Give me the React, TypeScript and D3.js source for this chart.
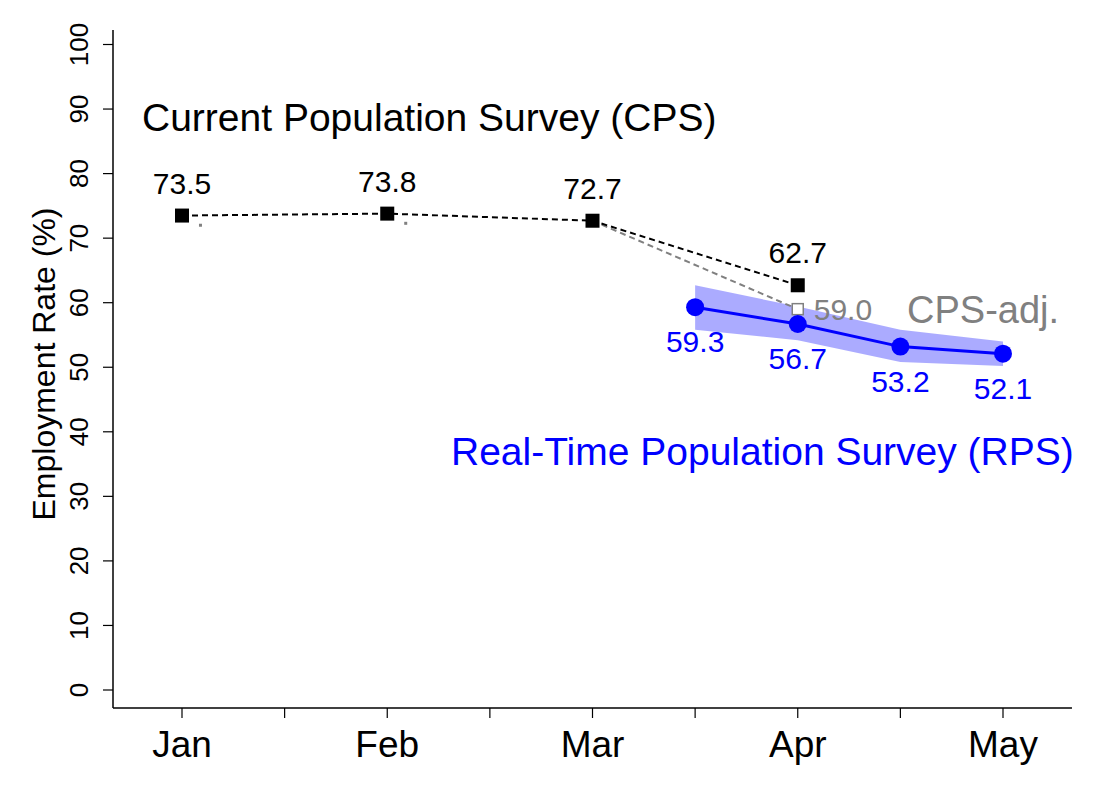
import * as d3 from 'd3';

const months = ['Jan', 'Feb', 'Mar', 'Apr', 'May'];
const yTicks = [0, 10, 20, 30, 40, 50, 60, 70, 80, 90, 100];

// CPS monthly values (month index)
const cpsX = [0, 1, 2, 3];
const cpsValues = [73.5, 73.8, 72.7, 62.7];

// CPS-adjusted: line Mar -> Apr, plus small stubs after Jan / Feb
const cpsAdjX = [2, 3];
const cpsAdjValues = [72.7, 59.0];
const cpsAdjStubX = [0.09, 1.09];
const cpsAdjStubValues = [72.0, 72.3];

// RPS semi-monthly values
const rpsX = [2.5, 3, 3.5, 4];
const rpsValues = [59.3, 56.7, 53.2, 52.1];
const rpsUpper = [62.7, 59.4, 55.8, 54.0];
const rpsLower = [55.8, 54.2, 50.8, 50.2];

const FONT = 'Liberation Sans, Arial, Helvetica, sans-serif';

export default function App() {
  const width = 1100;
  const height = 800;

  const x = d3.scaleLinear().domain([0, 4]).range([182, 1003]);
  const y = d3.scaleLinear().domain([0, 100]).range([690, 44.5]);

  const axisLeft = 113;
  const axisBottom = 708;
  const axisRight = x(4.336);
  const axisTop = 30;

  const cpsLine = d3
    .line<number>()
    .x((_, i) => x(cpsX[i]))
    .y((d) => y(d));
  const adjLine = d3
    .line<number>()
    .x((_, i) => x(cpsAdjX[i]))
    .y((d) => y(d));
  const rpsLine = d3
    .line<number>()
    .x((_, i) => x(rpsX[i]))
    .y((d) => y(d));
  const band = d3
    .area<number>()
    .x((_, i) => x(rpsX[i]))
    .y0((_, i) => y(rpsLower[i]))
    .y1((d) => y(d));

  const xTicks = d3.range(0, 4.01, 0.5);

  return (
    <svg
      width={width}
      height={height}
      style={{ position: 'absolute', left: 0, top: 0, background: '#fff' }}
      fontFamily={FONT}
    >
      {/* axes */}
      <line x1={axisLeft} x2={axisLeft} y1={axisTop} y2={axisBottom} stroke="#000" strokeWidth={1.5} />
      <line x1={axisLeft} x2={axisRight} y1={axisBottom} y2={axisBottom} stroke="#000" strokeWidth={1.5} />
      {yTicks.map((t) => (
        <g key={t}>
          <line x1={axisLeft - 10} x2={axisLeft} y1={y(t)} y2={y(t)} stroke="#000" strokeWidth={1.2} />
          <text
            transform={`translate(88,${y(t)}) rotate(-90)`}
            textAnchor="middle"
            fontSize={26}
            fill="#000"
          >
            {t}
          </text>
        </g>
      ))}
      <text
        transform={`translate(55,364) rotate(-90)`}
        textAnchor="middle"
        fontSize={32}
        fill="#000"
      >
        Employment Rate (%)
      </text>
      {xTicks.map((t) => (
        <line key={t} x1={x(t)} x2={x(t)} y1={axisBottom} y2={axisBottom + 10} stroke="#000" strokeWidth={1.2} />
      ))}
      {months.map((m, i) => (
        <text key={m} x={x(i)} y={757} textAnchor="middle" fontSize={37} fill="#000">
          {m}
        </text>
      ))}

      {/* RPS band */}
      <path d={band(rpsUpper) ?? ''} fill="#0000ff" fillOpacity={0.33} stroke="none" />

      {/* CPS-adj */}
      <path d={adjLine(cpsAdjValues) ?? ''} fill="none" stroke="#808080" strokeWidth={2} strokeDasharray="6,4" />
      {cpsAdjStubValues.map((v, i) => (
        <rect key={i} x={x(cpsAdjStubX[i]) - 1.5} y={y(v) - 1.5} width={3} height={3} fill="#808080" />
      ))}

      {/* CPS */}
      <path d={cpsLine(cpsValues) ?? ''} fill="none" stroke="#000" strokeWidth={2} strokeDasharray="6,4" />
      {cpsValues.map((v, i) => (
        <g key={i}>
          <rect x={x(cpsX[i]) - 7} y={y(v) - 7} width={14} height={14} fill="#000" />
          <text x={x(cpsX[i])} y={y(v) - 22} textAnchor="middle" fontSize={30} fill="#000">
            {v.toFixed(1)}
          </text>
        </g>
      ))}
      <rect
        x={x(cpsAdjX[1]) - 5.5}
        y={y(cpsAdjValues[1]) - 5.5}
        width={11}
        height={11}
        fill="#fff"
        stroke="#808080"
        strokeWidth={1.5}
      />
      <text x={x(cpsAdjX[1]) + 16} y={y(cpsAdjValues[1]) + 11} fontSize={30} fill="#808080">
        {cpsAdjValues[1].toFixed(1)}
      </text>

      {/* RPS */}
      <path d={rpsLine(rpsValues) ?? ''} fill="none" stroke="#0000ff" strokeWidth={3} />
      {rpsValues.map((v, i) => (
        <g key={i}>
          <circle cx={x(rpsX[i])} cy={y(v)} r={9} fill="#0000ff" />
          <text x={x(rpsX[i])} y={y(v) + 45} textAnchor="middle" fontSize={30} fill="#0000ff">
            {v.toFixed(1)}
          </text>
        </g>
      ))}

      {/* series titles */}
      <text x={142} y={131} fontSize={39} fill="#000">
        Current Population Survey (CPS)
      </text>
      <text x={907} y={323} fontSize={38} fill="#808080">
        CPS-adj.
      </text>
      <text x={451} y={465} fontSize={39} fill="#0000ff">
        Real-Time Population Survey (RPS)
      </text>
    </svg>
  );
}
